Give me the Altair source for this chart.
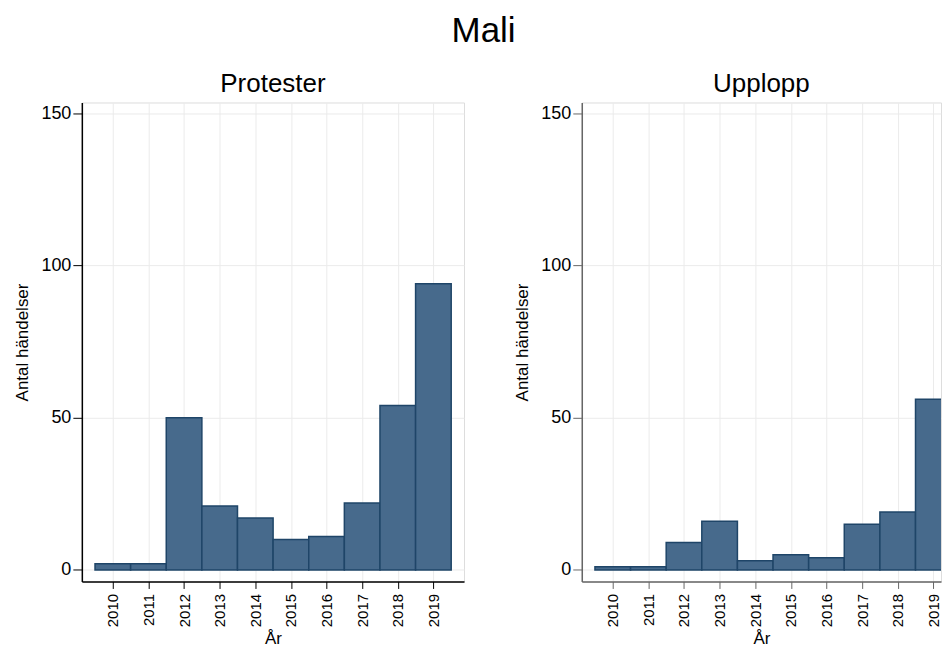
import altair as alt
import pandas as pd

years = [2010, 2011, 2012, 2013, 2014, 2015, 2016, 2017, 2018, 2019]
protester = [2, 2, 50, 21, 17, 10, 11, 22, 54, 94]
upplopp = [1, 1, 9, 16, 3, 5, 4, 15, 19, 56]
panel_titles = ["Protester", "Upplopp"]
y_ticks = [0, 50, 100, 150]

FONT = "Liberation Sans"
BAR_FILL = "#476a8c"
BAR_STROKE = "#1f4568"
PX_PER_YEAR = 383 / (2019.86 - 2009.13)


def panel(values, title, axis_color, width):
    df = pd.DataFrame({"year": years, "count": values})
    df["start"] = df["year"] - 0.5
    df["end"] = df["year"] + 0.5
    x_min = 2009.13
    x_max = x_min + width / PX_PER_YEAR
    return (
        alt.Chart(df)
        .mark_bar(fill=BAR_FILL, stroke=BAR_STROKE, strokeWidth=1.5, clip=True)
        .encode(
            x=alt.X(
                "start:Q",
                scale=alt.Scale(domain=[x_min, x_max], nice=False, zero=False),
                axis=alt.Axis(
                    values=years,
                    format="d",
                    labelAngle=270,
                    labelAlign="right",
                    labelBaseline="middle",
                    labelFontSize=15,
                    labelFont=FONT,
                    labelColor="#000000",
                    title="År",
                    titleFont=FONT,
                    titleFontSize=17,
                    titleFontWeight="normal",
                    titleColor="#000000",
                    titlePadding=4,
                    tickSize=7,
                    tickColor=axis_color,
                    domainColor=axis_color,
                    domainWidth=1.5,
                    gridColor="#ebebeb",
                    labelPadding=5,
                ),
            ),
            x2="end:Q",
            y=alt.Y(
                "count:Q",
                scale=alt.Scale(domain=[-3.8, 153.5], nice=False, zero=False),
                axis=alt.Axis(
                    values=y_ticks,
                    labelFontSize=18,
                    labelFont=FONT,
                    labelColor="#000000",
                    title="Antal händelser",
                    titleFont=FONT,
                    titleFontSize=17,
                    titleFontWeight="normal",
                    titleColor="#000000",
                    titlePadding=9,
                    tickSize=9,
                    tickColor=axis_color,
                    domainColor=axis_color,
                    domainWidth=1.5,
                    gridColor="#ebebeb",
                    labelPadding=2,
                ),
            ),
            y2=alt.Y2(datum=0),
        )
        .properties(
            width=width,
            height=480,
            title=alt.TitleParams(
                title, fontSize=26, font=FONT, fontWeight="normal", color="#000000",
                offset=6, anchor="middle"
            ),
        )
    )


chart = (
    alt.hconcat(
        panel(protester, panel_titles[0], "#000000", 383),
        panel(upplopp, panel_titles[1], "#666666", 360),
        spacing=48,
    )
    .properties(
        title=alt.TitleParams(
            "Mali", fontSize=35, font=FONT, fontWeight="normal", color="#000000",
            anchor="middle", offset=21, dx=6
        ),
        padding={"left": 5, "top": 5, "right": 0, "bottom": 0},
    )
    .configure_view(stroke=None)
    .configure(background="white")
)

chart.save("out.html", embed_options={"renderer": "svg", "actions": False})
